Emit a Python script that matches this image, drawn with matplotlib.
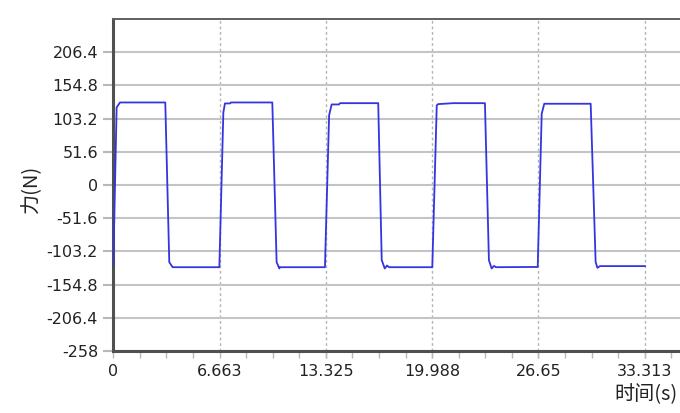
import numpy as np
import matplotlib.pyplot as plt
from matplotlib.ticker import FixedLocator

plt.rcParams['font.family'] = ['DejaVu Sans', 'Noto Sans CJK SC']

# force signal (time in s, force in N)
t = [0.0, 0.21, 0.42, 3.26, 3.51, 3.72, 6.65,
     6.90, 7.00, 7.32, 7.38, 9.97, 10.24, 10.41, 10.45, 13.27,
     13.53, 13.69, 14.15, 14.21, 16.61, 16.83, 17.02, 17.16, 17.29, 20.00,
     20.28, 20.36, 21.30, 23.30, 23.55, 23.72, 23.87, 23.99, 26.61,
     26.86, 27.02, 29.93, 30.24, 30.35, 30.51, 33.33]
force = [-124.6, 120.6, 128.3, 128.3, -119.9, -127.7, -127.7,
         112.8, 126.8, 126.8, 128.3, 128.3, -119.9, -129.7, -127.7, -127.7,
         108.1, 125.2, 125.2, 127.2, 127.2, -116.8, -129.7, -125.1, -127.7, -127.7,
         123.7, 125.7, 127.2, 127.2, -116.8, -129.7, -125.7, -127.7, -127.3,
         110.8, 126.3, 126.3, -119.5, -128.7, -126.0, -126.0]

xticks = [0, 6.663, 13.325, 19.988, 26.65, 33.313]
xticklabels = ['0', '6.663', '13.325', '19.988', '26.65', '33.313']
yticks = [-258, -206.4, -154.8, -103.2, -51.6, 0, 51.6, 103.2, 154.8, 206.4]
yticklabels = ['-258', '-206.4', '-154.8', '-103.2', '-51.6', '0', '51.6', '103.2', '154.8', '206.4']

fig = plt.figure(figsize=(6.8, 4.13), dpi=100)
ax = fig.add_axes([0.1666, 0.150, 0.8334, 0.804])

ax.plot(t, force, color='#3434e0', lw=1.3, zorder=3)

ax.set_xlim(0, 35.53)
ax.set_ylim(-258, 258)
ax.set_xticks(xticks)
ax.set_xticklabels(xticklabels)
ax.xaxis.set_minor_locator(FixedLocator(np.arange(0, 35.5, 6.663 / 4)))
ax.set_yticks(yticks)
ax.set_yticklabels(yticklabels)

ax.grid(axis='y', color='#c4c4c4', lw=1.5, ls='-')
ax.grid(axis='x', color='#b4b4b4', lw=1.0, ls=(0, (2, 2)))
ax.set_axisbelow(True)

for s in ['left', 'bottom']:
    ax.spines[s].set_color('#505050')
    ax.spines[s].set_linewidth(2.2)
ax.spines['top'].set_color('#606060')
ax.spines['top'].set_linewidth(1.4)
ax.spines['right'].set_visible(False)

ax.tick_params(axis='both', which='major', color='#b8b8b8', labelsize=11.5,
               labelcolor='#222222')
ax.tick_params(axis='y', length=7, width=1.5, pad=4)
ax.tick_params(axis='x', which='major', length=5, width=1.0, pad=4)
ax.tick_params(axis='x', which='minor', length=5, width=1.0, color='#b8b8b8')

fig.text(0.047, 0.542, '力(N)', rotation=90, ha='center', va='center',
         fontsize=14.5, color='#222222', family=['Noto Sans CJK SC', 'DejaVu Sans'])
fig.text(0.997, 0.044, '时间(s)', ha='right', va='center',
         fontsize=14.5, color='#222222', family=['Noto Sans CJK SC', 'DejaVu Sans'])

fig.savefig('out.png', dpi=100)
